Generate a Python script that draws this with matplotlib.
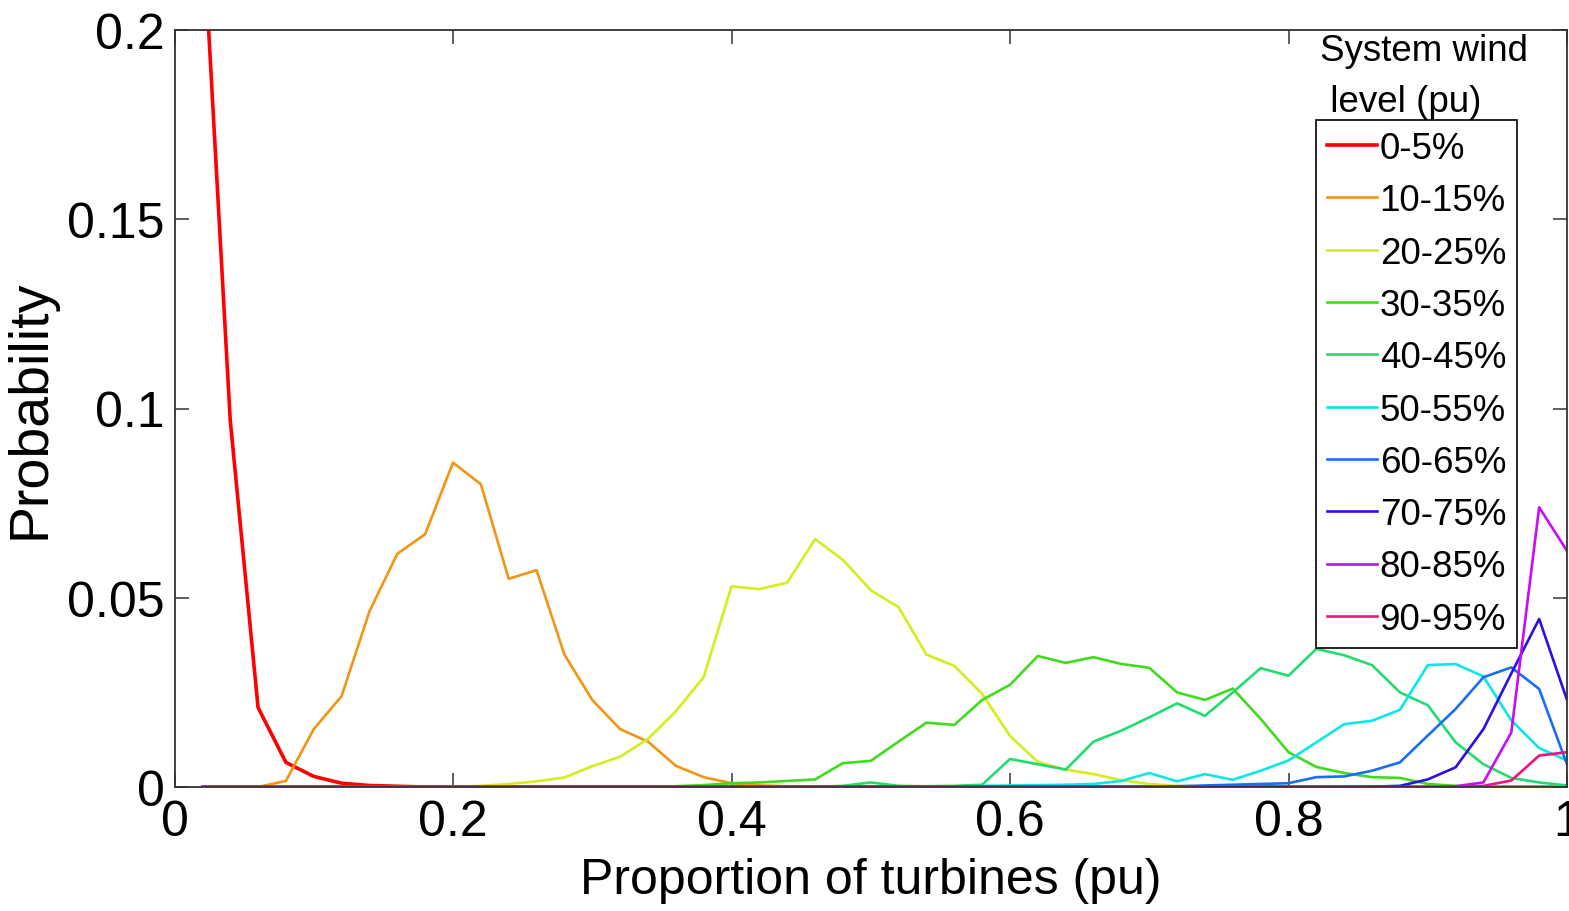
import numpy as np
import matplotlib
matplotlib.use("Agg")
import matplotlib.pyplot as plt

plt.rcParams['font.family'] = ['Liberation Sans', 'DejaVu Sans']

# proporção de turbinas (pu), passo de 0.02
x = np.round(np.arange(1, 51) * 0.02, 2)

labels = ['0-5%', '10-15%', '20-25%', '30-35%', '40-45%',
          '50-55%', '60-65%', '70-75%', '80-85%', '90-95%']

z = lambda n: [0.0] * n

p_0_5 = [0.23, 0.097, 0.021, 0.0065, 0.0028, 0.001, 0.0004, 0.0002] + z(42)

p_10_15 = z(3) + [0.0016, 0.0153, 0.024, 0.0464, 0.0616, 0.0668, 0.0857,
                  0.080, 0.055, 0.0573, 0.035, 0.023, 0.0153, 0.012, 0.0056,
                  0.0026, 0.001, 0.0004, 0.0002] + z(28)

p_20_25 = z(10) + [0.0003, 0.0008, 0.0015, 0.0025, 0.0055, 0.008, 0.0127,
                   0.020, 0.029, 0.053, 0.0523, 0.054, 0.0655, 0.060, 0.052,
                   0.0475, 0.035, 0.032, 0.0246, 0.0135, 0.0066, 0.0046,
                   0.0034, 0.0018, 0.0008, 0.0003] + z(14)

p_30_35 = z(17) + [0.0002, 0.0005, 0.001, 0.0012, 0.0016, 0.002, 0.0063,
                   0.0069, 0.012, 0.017, 0.0164, 0.023, 0.027, 0.0346, 0.0328,
                   0.0343, 0.0325, 0.0315, 0.025, 0.023, 0.026, 0.018, 0.0092,
                   0.0053, 0.0037, 0.0026, 0.0024, 0.0008, 0.0003] + z(4)

p_40_45 = z(23) + [0.0003, 0.0012, 0.0003, 0.0002, 0.0003, 0.0006, 0.0074,
                   0.006, 0.0046, 0.012, 0.0149, 0.0184, 0.0221, 0.0188, 0.025,
                   0.0314, 0.0294, 0.0365, 0.0348, 0.0322, 0.025, 0.0216,
                   0.0118, 0.006, 0.0024, 0.0012, 0.0004]

p_50_55 = z(28) + [0.0003, 0.0004, 0.0005, 0.0006, 0.0008, 0.0016, 0.0037,
                   0.0015, 0.0034, 0.0019, 0.0043, 0.007, 0.0118, 0.0166,
                   0.0175, 0.0204, 0.0322, 0.0325, 0.0292, 0.0176, 0.0103,
                   0.007]

p_60_65 = z(35) + [0.0002, 0.0004, 0.0006, 0.0008, 0.001, 0.0026, 0.0028,
                   0.0043, 0.0065, 0.0136, 0.0206, 0.029, 0.0316, 0.0259,
                   0.006]

p_70_75 = z(42) + [0.0001, 0.0003, 0.002, 0.0052, 0.0153, 0.030, 0.0444,
                   0.023]

p_80_85 = z(45) + [0.0002, 0.0012, 0.0144, 0.0739, 0.0624]

p_90_95 = z(46) + [0.0003, 0.0017, 0.0083, 0.0092]

series = [p_0_5, p_10_15, p_20_25, p_30_35, p_40_45,
          p_50_55, p_60_65, p_70_75, p_80_85, p_90_95]

# cores tipo hsv(10) do MATLAB
cores = ['#ff0000', '#f39514', '#d6ec1c', '#3fdc1c', '#22dc70',
         '#0ae6ea', '#1a6ef2', '#2a10e6', '#c80cf5', '#f0127e']

fig = plt.figure(figsize=(15.69, 9.12), dpi=100)
ax = fig.add_axes([174.5 / 1569, 1 - 788 / 912,
                   (1567 - 174.5) / 1569, (788 - 31) / 912])

for i, (s, lab) in enumerate(zip(series, labels)):
    lw = 2.6 if i == 0 else 1.9
    ax.plot(x, s, color=cores[i], lw=lw, label=lab, clip_on=True)

ax.set_xlim(0, 1)
ax.set_ylim(0, 0.2)
ax.set_xticks([0, 0.2, 0.4, 0.6, 0.8, 1])
ax.set_xticklabels(['0', '0.2', '0.4', '0.6', '0.8', '1'])
ax.set_yticks([0, 0.05, 0.1, 0.15, 0.2])
ax.set_yticklabels(['0', '0.05', '0.1', '0.15', '0.2'])
ax.tick_params(direction='in', top=True, right=True, length=10, width=1.1,
               labelsize=36, color='#333333')
ax.tick_params(axis='x', pad=9)
ax.tick_params(axis='y', pad=7)
for sp in ax.spines.values():
    sp.set_color('#333333')
    sp.set_linewidth(1.3)

ax.set_xlabel('Proportion of turbines (pu)', fontsize=36, labelpad=8)
ax.set_ylabel('Probability', fontsize=40, labelpad=8)

leg = ax.legend(loc='upper left',
                bbox_to_anchor=((1316 - 174.5) / (1567 - 174.5), (788 - 121) / 757),
                bbox_transform=ax.transAxes, borderaxespad=0,
                fontsize=26.5, frameon=True, fancybox=False, framealpha=1,
                edgecolor='black', handlelength=1.35, handletextpad=0.08,
                labelspacing=0.47, borderpad=0.3)
leg.get_frame().set_linewidth(1.2)

fig.text(1320 / 1569, 1 - 34 / 912, 'System wind\n level (pu)', fontsize=26.5,
         ha='left', va='top', linespacing=1.6)

fig.savefig('out.png', dpi=100)
